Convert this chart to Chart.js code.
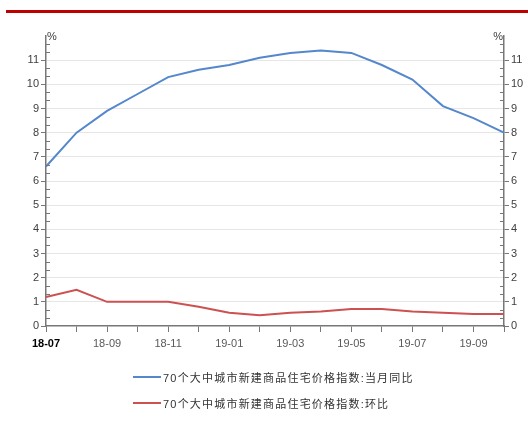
<!DOCTYPE html>
<html>
<head>
<meta charset="utf-8">
<script src="https://cdn.jsdelivr.net/npm/chart.js@4/dist/chart.umd.min.js"></script>
<style>
  html, body { margin: 0; padding: 0; background: #fff; }
  #wrap { position: relative; width: 528px; height: 426px; overflow: hidden; background: #fff; }
  #topRule { position: absolute; left: 6px; top: 10px; width: 522px; height: 3px; background: #c00000; }
  #chart { position: absolute; left: 0; top: 0; }
  #legend { position: absolute; left: 133px; top: 364px; font: 11px 'Liberation Sans', 'Noto Sans CJK SC', sans-serif; color: #333; letter-spacing: 1.2px; }
  .row { display: flex; align-items: center; height: 26px; white-space: nowrap; }
  .swatch { width: 28px; height: 2px; margin-right: 2px; }
</style>
</head>
<body>
<div id="wrap">
  <div id="topRule"></div>
  <canvas id="chart" width="528" height="426"></canvas>
  <div id="legend"></div>
</div>
<script>
// Months on the x axis
const months = ['18-07','18-08','18-09','18-10','18-11','18-12','19-01','19-02',
                '19-03','19-04','19-05','19-06','19-07','19-08','19-09','19-10'];
// 70个大中城市新建商品住宅价格指数: 当月同比 (%)
const yoy = [6.6, 8.0, 8.9, 9.6, 10.3, 10.6, 10.8, 11.1, 11.3, 11.4, 11.3, 10.8, 10.2, 9.1, 8.6, 8.0];
// 70个大中城市新建商品住宅价格指数: 环比 (%)
const mom = [1.2, 1.5, 1.0, 1.0, 1.0, 0.8, 0.55, 0.45, 0.55, 0.6, 0.7, 0.7, 0.6, 0.55, 0.5, 0.5];
// Series names
const seriesNames = ['70个大中城市新建商品住宅价格指数:当月同比', '70个大中城市新建商品住宅价格指数:环比'];
const seriesColors = ['#5587cc', '#cc5150'];
// Value axis range
const yMin = 0, yMax = 12, yStep = 1, minorPerMajor = 3;
const unitLabel = '%';

const FONT = "'Liberation Sans', 'Noto Sans CJK SC', sans-serif";
const AXIS = '#777777';

// Minor ticks on the inner side of both value axes, plus the unit label at the top
const axisExtras = {
  id: 'axisExtras',
  afterDraw(chart) {
    const ctx = chart.ctx;
    ctx.save();
    ctx.strokeStyle = AXIS;
    ctx.lineWidth = 1;
    ['y', 'y2'].forEach(id => {
      const s = chart.scales[id];
      const left = id === 'y';
      const x = left ? s.right : s.left;
      const dir = left ? 1 : -1;
      const n = (yMax - yMin) / yStep * minorPerMajor;
      for (let i = 1; i < n; i++) {
        if (i % minorPerMajor === 0) continue;
        const v = yMin + i * yStep / minorPerMajor;
        const py = Math.round(s.getPixelForValue(v)) + 0.5;
        ctx.beginPath();
        ctx.moveTo(x, py);
        ctx.lineTo(x + dir * 4, py);
        ctx.stroke();
      }
      ctx.fillStyle = '#404040';
      ctx.font = '11px ' + FONT;
      ctx.textBaseline = 'middle';
      ctx.textAlign = left ? 'left' : 'right';
      ctx.fillText(unitLabel, left ? x + 1 : x - 1, s.getPixelForValue(yMax) + 1);
    });
    ctx.restore();
  }
};

function valueAxis(position, width) {
  return {
    position,
    min: yMin,
    max: yMax,
    border: { color: AXIS, width: 1.5 },
    grid: {
      drawOnChartArea: position === 'left',
      color: c => (c.tick && (c.tick.value === yMin || c.tick.value === yMax)) ? 'rgba(0,0,0,0)' : '#e6e6e6',
      tickColor: c => (c.tick && c.tick.value === yMax) ? 'rgba(0,0,0,0)' : AXIS,
      tickLength: 5,
      lineWidth: 1
    },
    ticks: {
      stepSize: yStep,
      padding: 2,
      color: '#404040',
      font: { size: 11, family: FONT },
      callback: v => v === yMax ? '' : v
    },
    afterFit: s => { s.width = width; }
  };
}

new Chart(document.getElementById('chart'), {
  type: 'line',
  data: {
    labels: months,
    datasets: [
      { label: seriesNames[0], data: yoy, borderColor: seriesColors[0], backgroundColor: seriesColors[0],
        borderWidth: 2, pointRadius: 0, tension: 0, yAxisID: 'y' },
      { label: seriesNames[1], data: mom, borderColor: seriesColors[1], backgroundColor: seriesColors[1],
        borderWidth: 2, pointRadius: 0, tension: 0, yAxisID: 'y' }
    ]
  },
  options: {
    responsive: false,
    animation: false,
    devicePixelRatio: 1,
    layout: { padding: { top: 36, left: 0, right: 0, bottom: 0 } },
    plugins: { legend: { display: false }, tooltip: { enabled: false } },
    scales: {
      x: {
        type: 'category',
        offset: false,
        border: { color: AXIS, width: 1.5 },
        grid: { drawOnChartArea: false, tickLength: 6, tickColor: AXIS, lineWidth: 1 },
        ticks: {
          autoSkip: false,
          maxRotation: 0,
          padding: 5,
          callback: (v, i) => i % 2 === 0 ? months[i] : '',
          color: c => c.index === 0 ? '#000' : '#595959',
          font: c => ({ size: 11, family: FONT, weight: c.index === 0 ? 'bold' : 'normal' })
        },
        afterFit: s => { s.height = 100; }
      },
      y: valueAxis('left', 46),
      y2: valueAxis('right', 24)
    }
  },
  plugins: [axisExtras]
});

// Legend rows
const legend = document.getElementById('legend');
seriesNames.forEach((name, i) => {
  const row = document.createElement('div');
  row.className = 'row';
  const sw = document.createElement('span');
  sw.className = 'swatch';
  sw.style.background = seriesColors[i];
  const tx = document.createElement('span');
  tx.textContent = name;
  row.appendChild(sw);
  row.appendChild(tx);
  legend.appendChild(row);
});
</script>
</body>
</html>
